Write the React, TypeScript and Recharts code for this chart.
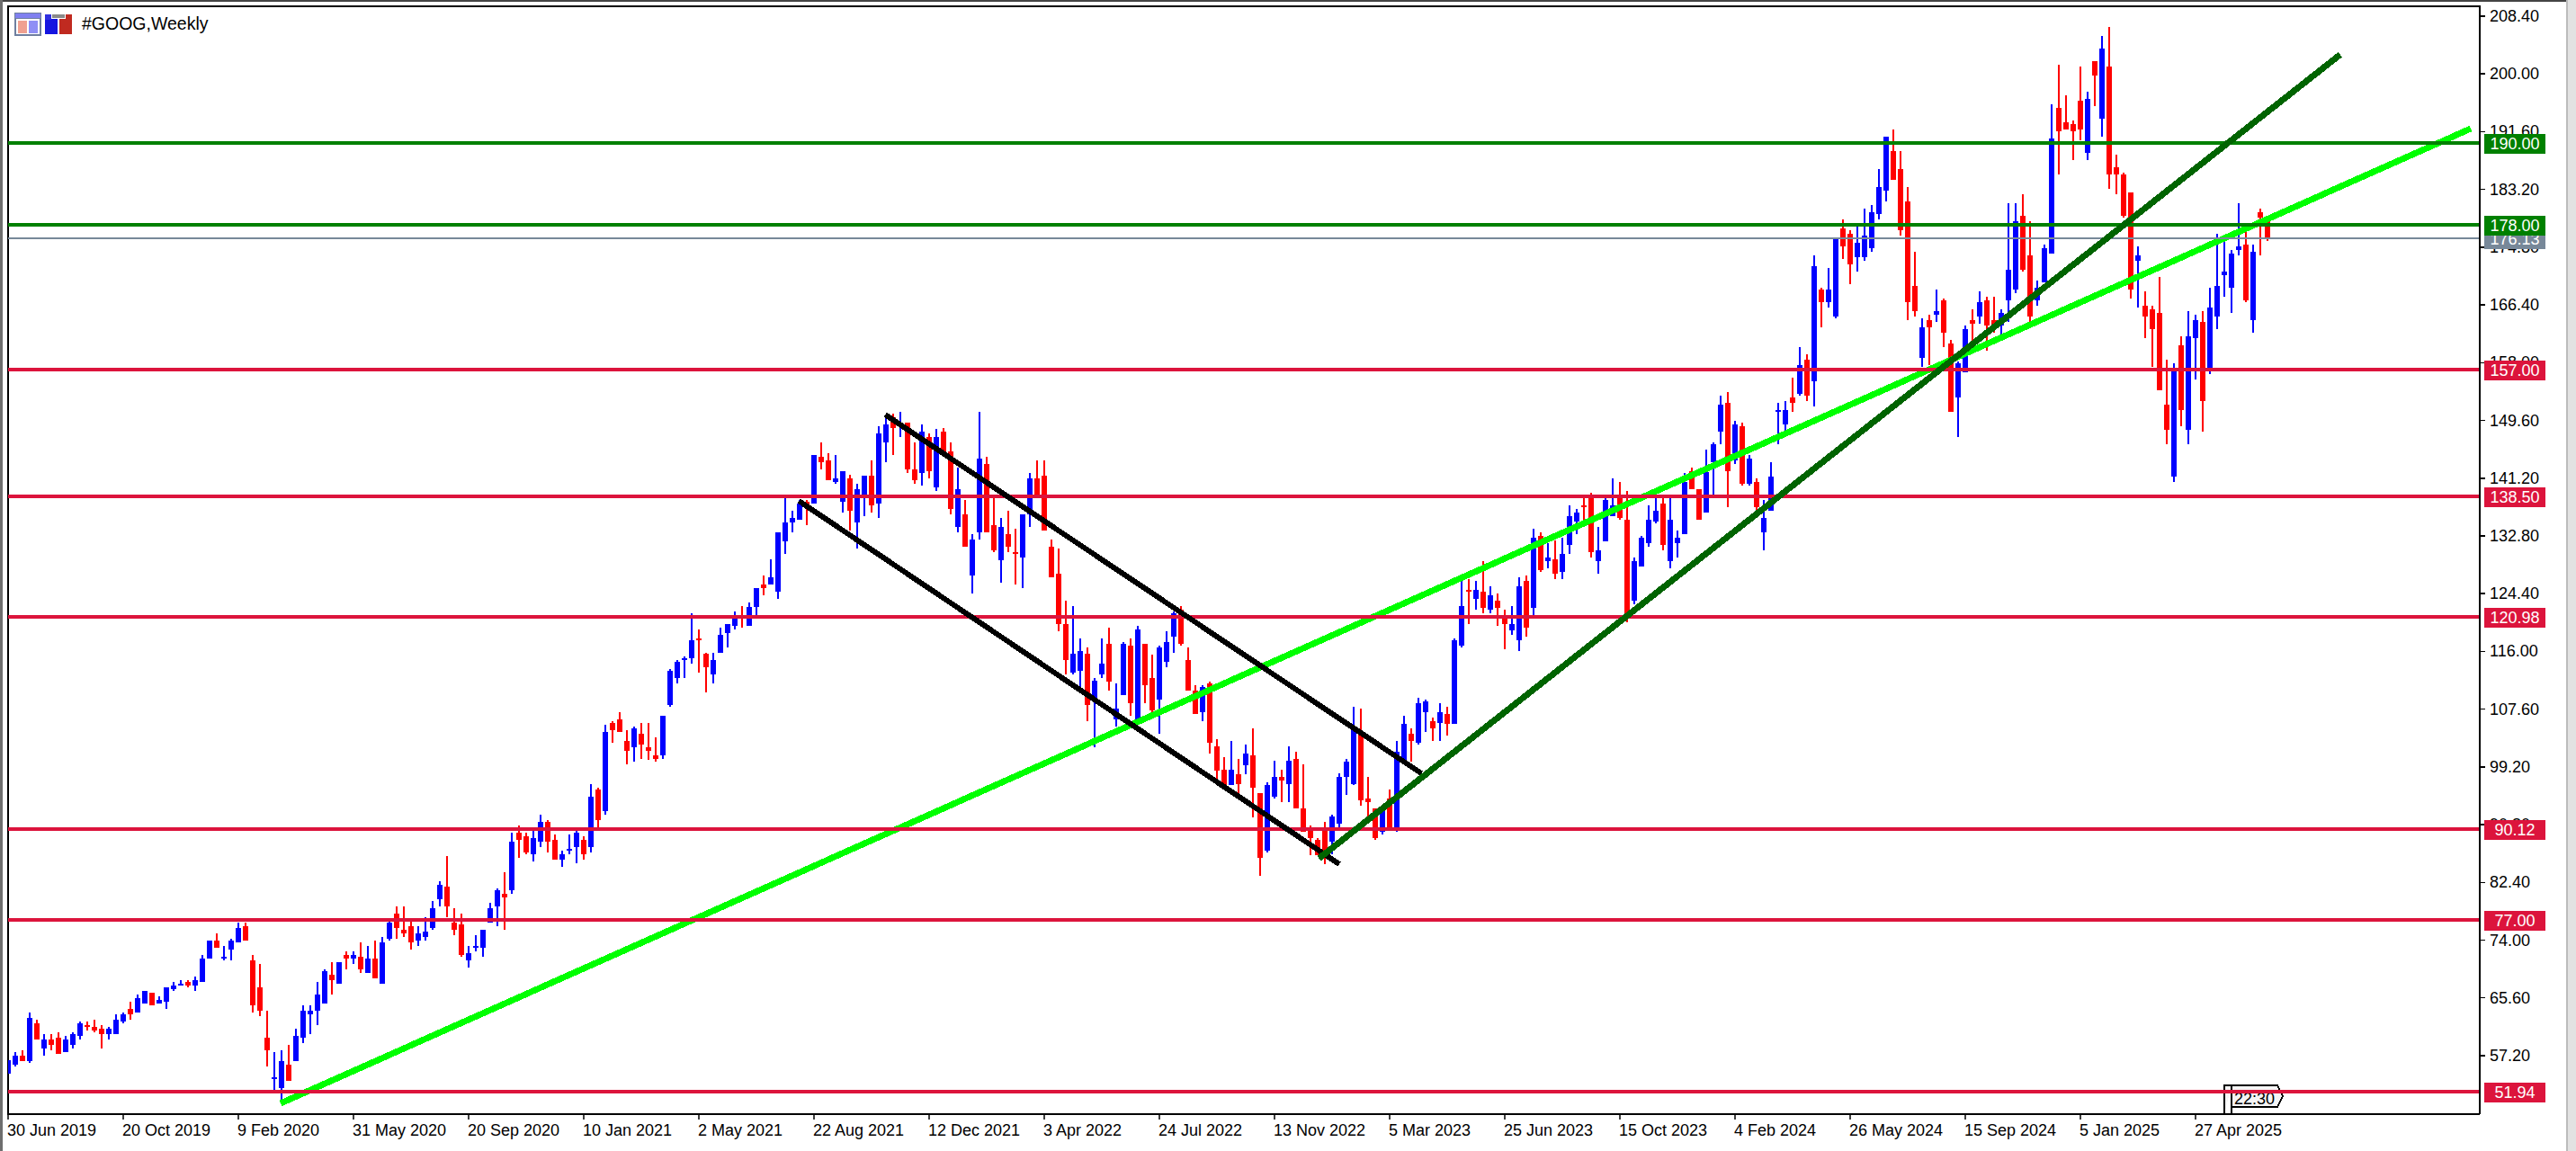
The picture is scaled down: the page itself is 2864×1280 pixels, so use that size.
import React from 'react';
import { ComposedChart, Bar, XAxis, YAxis, ReferenceLine } from 'recharts';

const opens = [
54.6,55.9,57.2,56.4,61.9,58.2,59.5,59.8,57.7,58.8,
60.1,61.6,61.4,61.1,60.3,60.3,62.2,64.0,63.5,64.8,
66.3,64.8,65.0,66.9,67.4,67.9,67.4,67.9,71.3,73.9,
71.3,72.6,73.7,76.0,71.1,67.1,59.8,53.8,52.5,55.9,
56.4,59.8,63.2,63.7,64.8,69.0,67.7,71.8,71.3,71.6,
69.2,71.3,67.7,74.2,77.9,75.5,76.0,73.9,74.5,75.8,
79.9,81.8,76.5,76.3,71.1,72.9,72.9,76.5,78.9,80.7,
81.3,89.6,89.1,86.5,88.3,91.2,88.6,85.7,87.0,87.5,
88.6,87.5,95.9,92.8,105.6,106.1,103.0,102.0,104.0,102.0,
100.9,100.9,108.2,112.1,114.7,115.0,117.9,115.6,112.7,115.8,
118.7,119.7,121.0,119.7,122.4,125.7,125.7,124.7,132.0,134.7,
135.2,137.8,137.5,144.3,143.8,140.6,137.8,141.2,134.7,138.6,
141.5,137.5,146.4,150.1,149.1,149.3,142.5,142.0,147.2,139.9,
148.0,145.1,134.1,136.0,127.0,133.3,143.3,134.4,129.2,133.1,
130.5,129.7,136.0,141.2,141.5,131.2,127.3,120.0,112.9,113.2,
115.6,109.0,112.7,117.1,106.1,109.6,116.8,106.1,117.1,112.1,
109.0,114.5,118.1,122.1,114.8,110.3,107.2,111.3,102.2,98.8,
96.5,98.1,99.4,100.9,95.4,87.0,94.9,97.8,96.7,100.4,
93.1,89.9,88.6,90.2,88.3,91.0,97.8,96.7,104.0,94.6,
93.1,89.7,94.6,90.2,100.1,104.0,102.7,107.2,105.8,105.6,
106.9,105.4,116.8,124.9,123.6,124.7,122.1,123.4,120.8,119.0,
117.6,126.3,122.3,132.8,129.1,129.4,127.6,131.5,134.9,137.2,
138.3,129.1,132.0,135.7,138.8,135.2,123.4,128.4,131.7,134.9,
137.5,129.1,131.7,133.1,142.2,139.6,136.2,143.5,148.0,152.2,
143.8,148.8,140.4,140.6,133.3,136.5,150.8,149.0,153.0,153.5,
158.4,155.3,168.6,166.8,164.7,177.5,176.7,173.3,173.3,174.6,
179.6,183.0,188.8,186.2,181.5,169.2,158.7,164.2,165.0,167.1,
160.8,152.9,156.6,164.2,164.7,167.1,164.2,163.4,167.1,168.6,
179.4,173.6,167.1,169.7,173.9,195.1,193.0,192.7,196.1,188.5,
201.9,193.5,201.1,186.4,185.4,182.8,172.8,166.3,165.8,165.2,
151.9,141.4,160.5,148.2,161.6,163.9,157.1,164.7,170.7,168.9,
174.4,175.2,164.2,179.9,178.6];

const highs = [
56.6,57.7,58.0,63.5,62.4,60.3,60.3,60.6,60.1,60.6,
62.2,62.2,62.4,61.6,61.4,63.2,63.5,65.0,66.1,66.6,
66.3,65.8,67.1,67.9,68.2,68.2,68.7,71.8,73.9,75.0,
73.2,74.2,76.5,76.5,71.8,70.5,63.7,57.7,58.0,58.8,
61.1,64.5,64.5,67.9,69.7,70.8,70.8,72.4,72.4,73.7,
73.2,73.9,74.5,76.8,78.9,78.9,76.8,76.0,77.3,79.7,
82.6,86.2,78.6,77.9,73.2,74.7,75.5,79.4,81.5,83.9,
89.6,90.7,89.6,90.2,92.2,91.5,89.4,87.0,89.4,89.9,
89.1,96.7,96.2,105.3,105.8,107.2,104.6,105.1,105.6,105.6,
103.5,106.6,113.4,114.7,115.3,121.5,119.2,115.8,115.8,119.4,
120.0,121.8,122.6,123.1,125.2,127.0,129.4,133.3,138.3,136.5,
138.0,138.0,144.6,146.4,144.8,144.6,142.2,141.7,140.4,141.5,
143.8,148.8,150.1,150.6,150.9,149.3,146.4,149.0,147.7,148.3,
148.5,146.4,142.8,138.0,133.1,150.9,144.3,138.3,135.4,136.5,
133.8,136.0,142.0,143.8,143.8,132.3,131.0,123.4,122.6,117.9,
116.6,112.1,117.9,119.4,111.4,117.4,117.9,119.7,117.1,115.5,
116.8,118.9,121.8,122.6,116.6,111.1,111.1,111.6,103.2,100.6,
103.0,100.4,102.5,104.8,95.4,97.0,100.1,98.8,102.2,101.4,
99.6,90.7,88.9,91.2,92.3,98.3,100.4,108.0,107.7,97.8,
93.1,93.6,95.9,103.0,106.7,104.8,109.3,109.0,106.4,108.5,
108.0,117.9,126.2,126.5,126.3,129.1,125.5,124.4,122.1,122.6,
126.8,127.0,133.8,133.3,131.8,132.1,132.5,137.2,136.7,138.5,
139.1,134.1,138.3,141.2,140.6,139.4,129.7,132.8,137.2,138.8,
138.8,138.3,133.6,142.0,142.7,139.6,145.3,146.4,153.2,153.7,
149.5,149.3,144.6,141.2,138.0,143.5,152.2,152.4,155.8,160.3,
159.2,173.6,168.9,171.8,176.2,178.8,177.3,177.8,180.4,180.9,
186.2,190.9,191.9,188.8,183.5,174.1,164.4,165.0,168.6,167.3,
161.3,158.2,163.4,165.8,168.4,167.6,167.6,165.8,181.2,181.2,
182.5,178.6,169.9,175.2,195.6,201.3,196.9,193.2,201.1,197.4,
201.9,205.5,206.8,188.2,185.6,182.8,174.9,168.4,166.3,170.5,
158.4,157.9,161.8,165.5,165.0,165.5,168.9,176.7,175.9,174.4,
181.2,177.3,175.2,180.4,178.6];

const lows = [
54.6,55.6,56.4,56.1,59.5,57.2,58.0,57.5,57.7,58.2,
59.5,60.9,60.6,58.2,59.5,60.3,61.9,62.4,63.5,64.8,
64.5,64.8,64.0,66.6,67.4,67.1,66.6,67.9,71.3,72.9,
71.1,71.1,73.7,73.9,63.5,62.9,55.6,52.2,50.4,53.5,
56.4,59.0,60.3,61.6,64.8,66.1,67.7,69.7,70.5,69.2,
69.2,68.4,67.7,73.9,74.2,74.5,72.6,73.2,73.9,75.5,
78.9,77.3,74.7,71.6,70.0,72.4,71.6,76.5,76.0,75.5,
80.7,86.0,86.5,85.4,87.5,86.8,85.7,84.7,86.5,85.2,
85.7,86.8,90.4,92.2,102.7,104.3,99.6,99.9,100.4,100.2,
99.9,100.4,108.0,111.4,112.1,114.2,112.9,110.1,111.4,115.8,
116.6,119.2,119.4,119.7,121.3,124.2,125.7,123.7,130.2,133.3,
135.2,134.4,137.5,142.5,140.9,140.4,136.2,133.6,131.0,135.7,
136.2,135.4,143.5,144.6,147.2,142.0,140.4,140.1,141.2,139.3,
145.1,136.0,133.3,131.2,124.4,132.3,133.3,130.5,126.0,130.5,
125.7,125.2,134.1,138.8,133.6,126.8,118.9,112.7,112.7,110.3,
105.9,102.0,112.1,110.3,105.1,109.6,106.7,105.3,108.5,107.2,
104.0,113.7,115.8,116.8,110.3,106.9,105.8,101.2,97.5,96.5,
96.5,95.1,98.1,91.8,83.4,86.8,94.6,94.1,94.1,93.1,
89.7,86.3,86.3,85.0,86.5,90.4,95.1,96.5,93.6,92.0,
88.6,89.4,90.2,89.7,100.1,99.9,102.5,104.3,103.0,103.0,
103.8,105.4,116.6,120.0,122.1,121.6,121.6,119.7,116.3,118.4,
116.1,118.1,121.0,127.6,128.1,126.5,126.5,130.2,133.1,134.9,
129.7,127.3,132.0,135.7,135.2,120.2,122.8,128.4,131.2,134.6,
130.7,128.1,129.7,133.1,139.6,135.2,136.2,138.8,146.1,137.0,
143.3,140.1,140.1,136.5,130.7,136.5,146.1,148.0,150.8,153.2,
152.4,151.6,163.1,166.0,164.4,173.1,169.4,171.2,172.8,174.1,
178.8,181.5,184.6,176.5,164.2,164.7,157.4,157.6,163.9,160.3,
150.8,147.2,156.6,161.0,163.7,159.7,162.4,162.1,163.9,168.1,
171.2,163.9,166.3,169.7,173.9,185.4,191.9,187.5,190.3,187.5,
195.3,190.9,183.3,182.5,179.1,167.3,166.0,161.6,157.4,154.0,
146.1,140.6,148.8,146.1,155.6,148.0,156.3,162.9,167.6,165.2,
173.6,166.8,162.4,173.6,175.7];

const closes = [
56.6,57.2,56.4,62.7,59.5,59.5,58.8,57.5,59.5,60.3,
61.9,61.4,60.9,60.3,61.1,62.4,63.2,63.2,65.6,66.6,
64.5,65.3,67.1,67.4,67.7,67.4,68.2,71.3,73.9,72.9,
71.6,73.9,75.8,73.9,64.5,63.7,58.0,54.0,56.4,53.5,
60.1,63.7,63.7,66.1,69.5,68.2,70.8,71.3,71.8,69.7,
71.3,68.4,73.7,76.5,75.8,75.0,73.7,75.0,75.2,78.6,
82.0,78.9,75.5,71.8,72.1,73.2,75.5,78.6,81.3,80.2,
88.3,88.6,86.8,88.8,91.2,88.3,85.7,86.5,87.3,89.6,
86.5,94.9,91.5,104.3,104.5,104.3,101.5,104.8,102.5,101.5,
100.4,106.6,113.2,114.5,115.0,117.6,117.6,113.7,114.7,118.4,
120.0,121.0,120.7,122.4,125.2,125.2,126.8,133.3,134.7,135.4,
137.5,137.3,144.6,143.5,140.9,141.2,142.2,136.5,139.6,141.5,
137.3,147.7,149.0,148.5,149.3,142.5,140.9,148.0,142.2,147.2,
145.1,136.7,139.6,131.2,132.3,144.1,133.3,130.7,134.1,131.2,
130.2,136.0,141.2,138.8,133.6,126.8,120.0,114.7,115.6,116.1,
108.2,111.8,114.2,111.6,107.7,117.1,108.5,119.2,111.1,107.4,
116.6,117.4,121.6,117.1,110.3,106.9,110.8,102.7,98.6,96.5,
98.8,96.7,101.2,96.2,86.0,96.5,97.8,97.2,100.1,93.1,
89.7,88.9,86.3,86.0,92.0,97.8,99.9,104.8,94.4,94.1,
88.9,92.8,90.2,101.4,105.4,103.0,108.5,108.7,104.8,107.2,
105.4,117.6,122.6,124.7,124.9,122.3,124.2,122.3,120.0,120.0,
125.5,119.4,132.5,127.8,129.7,127.3,130.2,135.7,136.2,137.0,
130.4,130.7,138.0,137.2,135.4,120.8,129.1,132.5,135.2,136.5,
131.5,135.2,132.5,140.7,139.6,135.2,142.1,146.1,151.9,142.2,
149.0,140.4,144.0,137.0,135.4,141.4,151.1,151.1,152.2,157.6,
153.2,172.0,166.8,168.6,176.2,174.9,172.3,175.4,176.5,179.9,
183.5,190.9,184.6,177.3,166.8,165.5,163.1,163.1,165.5,162.4,
150.8,157.9,162.9,163.7,166.8,163.4,163.4,165.2,171.5,178.6,
171.5,164.7,168.9,174.7,190.6,191.7,191.9,191.7,191.9,196.4,
199.8,203.7,185.4,185.4,179.4,168.6,173.6,164.7,162.9,154.0,
148.2,157.1,151.1,161.8,164.2,152.4,166.0,169.2,171.2,173.9,
174.9,167.1,174.1,179.1,176.1];

const dateLabels = ['30 Jun 2019','20 Oct 2019','9 Feb 2020','31 May 2020','20 Sep 2020','10 Jan 2021','2 May 2021','22 Aug 2021','12 Dec 2021','3 Apr 2022','24 Jul 2022','13 Nov 2022','5 Mar 2023','25 Jun 2023','15 Oct 2023','4 Feb 2024','26 May 2024','15 Sep 2024','5 Jan 2025','27 Apr 2025'];
const barsPerLabel = 16;
const priceTicks = [208.4,200,191.6,183.2,174.8,166.4,158,149.6,141.2,132.8,124.4,116,107.6,99.2,90.8,82.4,74,65.6,57.2];

const redLevels = [157, 138.5, 120.98, 90.12, 77, 51.94];
const greenLevels = [190, 178];
const lastPrice = 176.13;

const risingTrendA = [{ x: 37.875, y: 50.26 }, { x: 342.25, y: 192.05 }];
const risingTrendB = [{ x: 182.19, y: 85.9 }, { x: 324.1, y: 202.81 }];
const channelUpper = [{ x: 121.9, y: 150.45 }, { x: 196.4, y: 98.26 }];
const channelLower = [{ x: 109.9, y: 137.9 }, { x: 185, y: 85.05 }];

const rows = opens.map((o, i) => ({ i, o, h: highs[i], l: lows[i], c: closes[i] }));

const FONT = '"Liberation Sans", Arial, sans-serif';
const CRIMSON = '#DC143C';
const GREEN = '#008000';
const SLATE = '#778899';

const tagColor = (v: number) => {
  if (v === lastPrice) return SLATE;
  if (greenLevels.includes(v)) return GREEN;
  if (redLevels.includes(v)) return CRIMSON;
  return null;
};

function Candle(props: any) {
  const { x, y, width, height, payload } = props;
  const cx = Math.round(x + width / 2);
  const range = payload.h - payload.l;
  const ppu = range > 0 ? height / range : 0;
  const top = y + (payload.h - Math.max(payload.o, payload.c)) * ppu;
  const bottom = y + (payload.h - Math.min(payload.o, payload.c)) * ppu;
  const color = payload.c >= payload.o ? '#0000FF' : '#FF0000';
  return (
    <g shapeRendering="crispEdges">
      <rect x={cx - 1} y={y} width={2} height={Math.max(height, 1)} fill={color} />
      <rect x={cx - 3} y={top} width={6} height={Math.max(bottom - top, 2)} fill={color} />
    </g>
  );
}

function PriceTick(props: any) {
  const { x, y, payload } = props;
  const value: number = payload.value;
  const fill = tagColor(value);
  const left = 2757;
  if (fill) {
    return (
      <g>
        <rect x={left + 5} y={y - 10} width={68} height={22} fill={fill} shapeRendering="crispEdges" />
        <text x={left + 39} y={y + 7} textAnchor="middle" fill="#fff" fontFamily={FONT} fontSize={18}>{value.toFixed(2)}</text>
      </g>
    );
  }
  return (
    <g>
      <line x1={left} x2={left + 6} y1={y} y2={y} stroke="#000" strokeWidth={1.5} shapeRendering="crispEdges" />
      <text x={left + 11} y={y + 6} textAnchor="start" fill="#000" fontFamily={FONT} fontSize={18}>{value.toFixed(2)}</text>
    </g>
  );
}

function DateTick(props: any) {
  const { x, payload } = props;
  return (
    <text x={x - 1} y={1263} fontFamily={FONT} fontSize={18} fill="#000" textAnchor="start">
      {dateLabels[payload.value / barsPerLabel]}
    </text>
  );
}

function Chrome() {
  return (
    <svg width={2864} height={1280} style={{ position: 'absolute', left: 0, top: 0 }} shapeRendering="crispEdges">
      <rect x={0} y={0} width={2864} height={1280} fill="#fff" />
      <rect x={0} y={0} width={2853} height={2} fill="#444" />
      <rect x={0} y={0} width={3} height={1280} fill="#6e6e6e" />
      <rect x={2853} y={0} width={2} height={1280} fill="#bcbcbc" />
      <rect x={2855} y={0} width={9} height={1280} fill="#e2e2e2" />
      <rect x={8} y={6} width={2750} height={2} fill="#000" />
      <rect x={8} y={6} width={2} height={1234} fill="#000" />
      <rect x={16} y={14} width={30} height={26} fill="#6f7f9f" />
      <rect x={17} y={15} width={28} height={5} fill="#8080f0" />
      <rect x={18} y={21} width={26} height={17} fill="#fff" />
      <rect x={20} y={23} width={10} height={14} fill="#f0a090" />
      <rect x={32} y={23} width={10} height={14} fill="#8f8ff5" />
      <rect x={50} y={21} width={14} height={17} fill="#1515e0" />
      <rect x={50} y={16} width={7} height={6} fill="#3030e0" />
      <rect x={66} y={21} width={14} height={17} fill="#c02a20" />
      <rect x={73} y={16} width={7} height={6} fill="#c02a20" />
      <rect x={58} y={16} width={14} height={4} fill="#8a8a8a" />
      <text x={91} y={33} fontFamily={FONT} fontSize={19.5} fill="#000" shapeRendering="auto">#GOOG,Weekly</text>
      <path d="M2473 1239 V1207 H2481 M2481 1239 V1207 H2532 L2538 1219 L2532 1231 H2481" fill="#f5f5f5" stroke="#000" strokeWidth={1.5} />
      <text x={2484} y={1228} fontFamily={FONT} fontSize={18} fill="#000">22:30</text>
    </svg>
  );
}

export default function App() {
  if (typeof document !== 'undefined') document.body.style.margin = '0';
  return (
    <div style={{ position: 'absolute', left: 0, top: 0, width: 2864, height: 1280, overflow: 'hidden' }}>
      <Chrome />
      <div style={{ position: 'absolute', left: 0, top: 0 }}>
        <ComposedChart width={2864} height={1280} data={rows} margin={{ top: 7, right: 0, bottom: 0, left: 9 }}>
          <XAxis
            dataKey="i"
            type="number"
            scale="linear"
            domain={[0, 343.5]}
            allowDataOverflow
            ticks={dateLabels.map((_, k) => k * barsPerLabel)}
            interval={0}
            height={41}
            tickSize={6}
            tick={<DateTick />}
            axisLine={{ stroke: '#000', strokeWidth: 2 }}
            tickLine={{ stroke: '#000', strokeWidth: 1.5 }}
          />
          <YAxis
            orientation="right"
            type="number"
            domain={[48.69, 209.84]}
            allowDataOverflow
            ticks={[...priceTicks, lastPrice, ...greenLevels, ...redLevels]}
            interval={0}
            width={107}
            tickLine={false}
            tick={<PriceTick />}
            axisLine={{ stroke: '#000', strokeWidth: 2 }}
          />
          <Bar dataKey={(d: any) => [d.l, d.h]} barSize={6} shape={<Candle />} isAnimationActive={false} />
          <ReferenceLine segment={risingTrendA} stroke="#00FF00" strokeWidth={7} ifOverflow="visible" shapeRendering="crispEdges" />
          <ReferenceLine y={lastPrice} stroke={SLATE} strokeWidth={2} shapeRendering="crispEdges" />
          {greenLevels.map((v) => (
            <ReferenceLine key={v} y={v} stroke={GREEN} strokeWidth={4} shapeRendering="crispEdges" />
          ))}
          {redLevels.map((v) => (
            <ReferenceLine key={v} y={v} stroke={CRIMSON} strokeWidth={4} shapeRendering="crispEdges" />
          ))}
          <ReferenceLine segment={channelUpper} stroke="#000" strokeWidth={6} ifOverflow="visible" shapeRendering="crispEdges" />
          <ReferenceLine segment={channelLower} stroke="#000" strokeWidth={6} ifOverflow="visible" shapeRendering="crispEdges" />
          <ReferenceLine segment={risingTrendB} stroke="#006400" strokeWidth={7} ifOverflow="visible" shapeRendering="crispEdges" />
        </ComposedChart>
      </div>
    </div>
  );
}
